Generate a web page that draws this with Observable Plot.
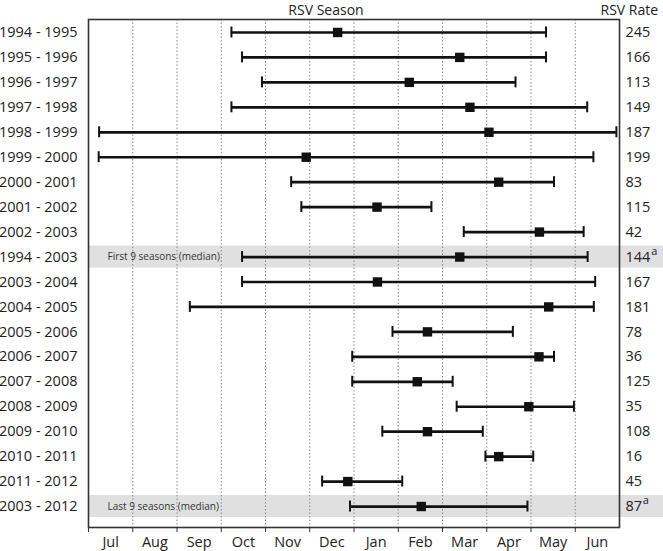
<!DOCTYPE html>
<html>
<head>
<meta charset="utf-8">
<script src="https://cdn.jsdelivr.net/npm/d3@7"></script>
<script src="https://cdn.jsdelivr.net/npm/@observablehq/plot@0.6"></script>
<style>
  html, body { margin: 0; padding: 0; background: #fff; }
</style>
</head>
<body>
<div id="chart"></div>
<script>
// Seasons (rows, top to bottom)
const seasons = ["1994 - 1995","1995 - 1996","1996 - 1997","1997 - 1998","1998 - 1999","1999 - 2000","2000 - 2001","2001 - 2002","2002 - 2003","1994 - 2003","2003 - 2004","2004 - 2005","2005 - 2006","2006 - 2007","2007 - 2008","2008 - 2009","2009 - 2010","2010 - 2011","2011 - 2012","2003 - 2012"];
// Months since July 1 (0 = Jul 1, 12 = Jul 1 next year)
const seasonStart = [3.23,3.47,3.92,3.23,0.24,0.23,4.58,4.81,8.48,3.47,3.47,2.29,6.87,5.96,5.96,8.32,6.64,8.97,5.28,5.91];
const seasonPeak  = [5.63,8.39,7.25,8.62,9.05,4.92,9.27,6.52,10.19,8.39,6.53,10.40,7.66,10.18,7.43,9.95,7.66,9.27,5.86,7.52];
const seasonEnd   = [10.34,10.34,9.65,11.27,11.93,11.41,10.52,7.75,11.19,11.28,11.45,11.42,9.59,10.52,8.23,10.97,8.91,10.05,7.09,9.92];
const rsvRate = [245,166,113,149,187,199,83,115,42,144,167,181,78,36,125,35,108,16,45,87];
const medianSeasons = ["1994 - 2003","2003 - 2012"];
const medianNotes = ["First 9 seasons (median)","Last 9 seasons (median)"];
const medianMark = "a";
const months = ["Jul","Aug","Sep","Oct","Nov","Dec","Jan","Feb","Mar","Apr","May","Jun"];

const rows = seasons.map((s, i) => ({season: s, start: seasonStart[i], peak: seasonPeak[i], end: seasonEnd[i], rate: rsvRate[i]}));
const medians = medianSeasons.map((s, i) => ({season: s, note: medianNotes[i], rate: rsvRate[seasons.indexOf(s)]}));

const font = "'Open Sans', sans-serif";

const superMarks = medians.map(m => Plot.text([m], {
  y: "season", frameAnchor: "right", text: () => medianMark,
  dx: 6 + String(m.rate).length * 8.6, dy: -6, textAnchor: "start", fontSize: 11, fill: "#222"
}));

const chart = Plot.plot({
  width: 663,
  height: 551,
  marginTop: 19,
  marginRight: 44,
  marginBottom: 24,
  marginLeft: 88,
  style: {fontFamily: font, fontSize: "14.5px", color: "#222", background: "#fff", overflow: "visible"},
  x: {domain: [0, 12], axis: null},
  y: {type: "band", domain: seasons, range: [19.5, 518.5], padding: 0, round: false, axis: null},
  marks: [
    // gray highlight for the median rows (extends past the frame to the right edge)
    Plot.barX(medians, {y: "season", x1: 0, x2: 13, fill: "#e0e0e0", insetTop: 1.5, insetBottom: 1.5, clip: false}),
    // dotted month gridlines
    Plot.ruleX(d3.range(1, 12), {stroke: "#888", strokeWidth: 1, strokeDasharray: "1.5,2"}),
    // season ranges
    Plot.ruleY(rows, {y: "season", x1: "start", x2: "end", stroke: "#111", strokeWidth: 2.7}),
    Plot.tickX(rows, {y: "season", x: "start", stroke: "#111", strokeWidth: 2, insetTop: 7, insetBottom: 7}),
    Plot.tickX(rows, {y: "season", x: "end", stroke: "#111", strokeWidth: 2, insetTop: 7, insetBottom: 7}),
    Plot.dot(rows, {y: "season", x: "peak", symbol: "square", r: 5.3, fill: "#111", stroke: "none"}),
    Plot.frame({stroke: "#333", strokeWidth: 1.6}),
    // median notes
    Plot.text(medians, {y: "season", text: "note", frameAnchor: "left", dx: 19, textAnchor: "start", fontSize: 10, fill: "#333"}),
    // left axis: season labels
    Plot.axisY({anchor: "left", tickSize: 0, tickPadding: 11, label: null, fontSize: 14.5, fill: "#222"}),
    // bottom ticks at month boundaries
    Plot.axisX({anchor: "bottom", ticks: d3.range(0, 12), tickSize: 5, tickFormat: () => "", label: null, stroke: "#333"}),
    // month labels centered in each month
    Plot.axisX({anchor: "bottom", ticks: d3.range(12).map(i => i + 0.5), tickSize: 0, tickPadding: 9, tickFormat: d => months[Math.floor(d)], label: null, fontSize: 14.5, fill: "#222"}),
    // RSV rate column
    Plot.text(rows, {y: "season", text: d => String(d.rate), frameAnchor: "right", dx: 6, textAnchor: "start", fontSize: 14.5, fill: "#222"}),
    ...superMarks,
    // headers
    Plot.text(["RSV Season"], {frameAnchor: "top", lineAnchor: "middle", dx: -28, dy: -9, fontSize: 14, fill: "#222"}),
    Plot.text(["RSV Rate"], {frameAnchor: "top-right", lineAnchor: "middle", dx: -19, dy: -9, textAnchor: "start", fontSize: 14, fill: "#222"})
  ]
});
document.getElementById("chart").appendChild(chart);
</script>
</body>
</html>
